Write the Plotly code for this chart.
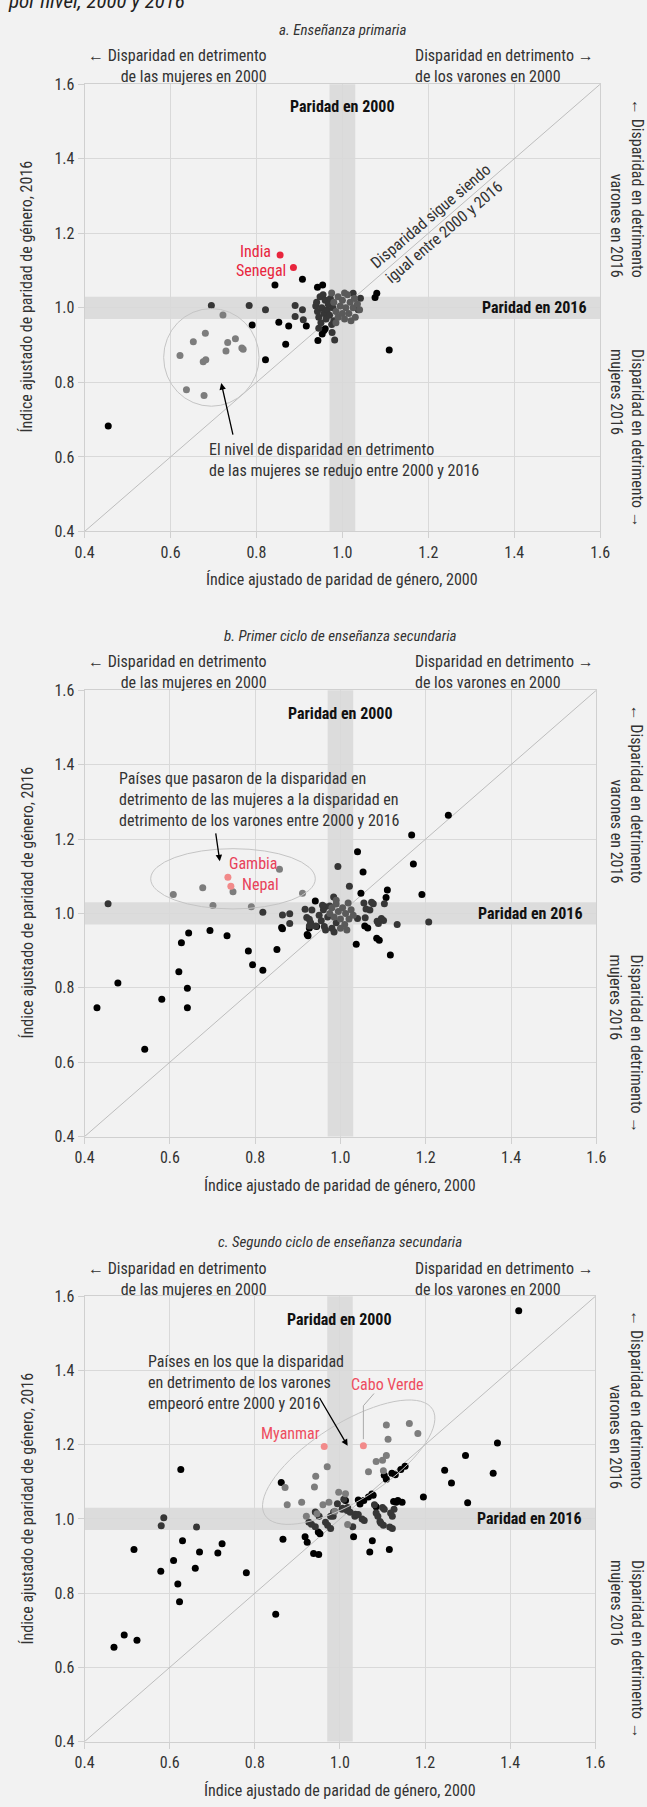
import math
import plotly.graph_objects as go

W, H = 647, 1807
FONT = "Roboto Condensed, Liberation Sans Narrow, sans-serif"
TXT = "#333333"

# ---------------- Panel a: Enseñanza primaria ----------------
a_black_x = [0.455, 0.907, 0.843, 0.942, 0.954, 1.080, 1.076, 1.109, 0.790, 0.821, 0.852, 0.875,
             0.868, 0.916, 0.943, 0.953, 0.957, 0.960]
a_black_y = [0.683, 1.077, 1.061, 1.055, 1.061, 1.039, 1.028, 0.887, 0.954, 0.861, 0.961, 0.951,
             0.902, 0.951, 0.912, 0.930, 0.939, 0.944]
a_dark_x = [0.695, 0.783, 0.821, 0.890, 0.907, 0.890, 0.909, 0.982, 0.976, 1.037, 1.025, 1.042,
            0.938, 0.940, 0.942, 0.945, 0.948, 0.950, 0.952, 0.955, 0.957, 0.960, 0.962, 0.965,
            0.967, 0.970, 0.972, 0.975, 0.978, 0.980, 0.945]
a_dark_y = [1.006, 1.006, 0.995, 1.006, 0.995, 0.977, 0.968, 0.914, 0.934, 0.995, 1.039, 1.026,
            1.005, 1.015, 0.990, 0.975, 1.030, 0.960, 1.000, 1.035, 0.985, 1.020, 0.970, 0.995,
            1.010, 0.980, 1.025, 0.955, 1.000, 0.965, 0.945]
a_mid_x = [0.975, 0.980, 0.985, 0.990, 0.990, 0.995, 1.000, 1.000, 1.005, 1.008, 1.012, 1.015,
           1.018, 1.020, 1.025, 1.028, 1.030, 1.035, 1.005, 0.985, 1.040]
a_mid_y = [1.040, 1.015, 0.990, 1.030, 0.975, 1.005, 1.020, 0.985, 0.970, 1.000, 1.035, 0.985,
           1.015, 0.965, 1.000, 1.025, 0.975, 1.010, 1.040, 0.960, 0.995]
a_gray_x = [0.622, 0.653, 0.681, 0.722, 0.733, 0.751, 0.766, 0.769, 0.729, 0.676, 0.682, 0.637, 0.678]
a_gray_y = [0.872, 0.909, 0.932, 0.981, 0.907, 0.917, 0.892, 0.889, 0.884, 0.855, 0.861, 0.780, 0.765]
a_hl_names = ["India", "Senegal"]
a_hl_x = [0.855, 0.886]
a_hl_y = [1.142, 1.108]

# ---------------- Panel b: Primer ciclo de secundaria ----------------
b_black_x = [0.429, 0.478, 0.541, 0.581, 0.621, 0.627, 0.641, 0.641, 0.644, 0.694, 0.734, 0.784,
             0.794, 0.818, 0.851, 0.864, 0.924, 0.941, 0.927, 0.944, 1.040, 1.053, 1.048, 1.037,
             1.064, 1.091, 1.110, 1.107, 1.117, 1.167, 1.171, 1.191, 1.253, 0.922, 0.862, 1.057,
             1.085]
b_black_y = [0.746, 0.813, 0.635, 0.769, 0.843, 0.921, 0.799, 0.746, 0.947, 0.954, 0.940, 0.899,
             0.862, 0.847, 0.903, 0.959, 0.940, 1.033, 0.961, 0.965, 1.166, 1.111, 1.054, 0.917,
             0.961, 0.928, 1.063, 1.043, 0.888, 1.211, 1.133, 1.051, 1.264, 0.943, 0.962, 0.966,
             0.933]
b_dark_x = [0.455, 0.818, 0.864, 0.881, 0.881, 0.917, 0.964, 0.994, 0.984, 1.021, 1.077, 1.103,
            1.101, 1.133, 1.207, 1.089, 0.933, 0.921, 0.927, 0.930, 0.927, 0.942, 1.055, 1.073,
            1.060, 1.069, 1.096, 1.086, 1.058, 1.040,
            0.950, 0.955, 0.960, 0.962, 0.965, 0.970, 0.975, 0.980, 0.985, 0.990, 0.958]
b_dark_y = [1.026, 1.003, 0.996, 0.973, 0.999, 1.011, 1.018, 1.126, 1.044, 1.073, 1.026, 1.026,
            0.981, 0.970, 0.977, 0.973, 1.009, 0.989, 0.984, 0.975, 0.966, 0.966, 1.028, 1.030,
            1.012, 1.009, 0.986, 0.979, 0.988, 0.986,
            0.995, 0.980, 1.010, 0.965, 0.955, 0.990, 1.020, 0.960, 0.950, 0.975, 1.022]
b_mid_x = [0.975, 0.980, 0.985, 0.990, 0.995, 1.000, 1.005, 1.010, 1.012, 1.018, 1.020, 1.025,
           1.030, 1.000, 1.015, 0.990]
b_mid_y = [1.000, 1.015, 0.990, 1.025, 1.005, 0.985, 1.015, 0.970, 1.000, 1.028, 0.985, 1.010,
           0.995, 0.960, 0.955, 1.035]
b_gray_x = [0.608, 0.677, 0.701, 0.748, 0.791, 0.857, 0.911]
b_gray_y = [1.051, 1.069, 1.021, 1.058, 1.018, 1.119, 1.054]
b_hl_names = ["Gambia", "Nepal"]
b_hl_x = [0.736, 0.743]
b_hl_y = [1.097, 1.073]

# ---------------- Panel c: Segundo ciclo de secundaria ----------------
c_black_x = [1.420, 0.469, 0.493, 0.523, 0.516, 0.579, 0.609, 0.619, 0.623, 0.626, 0.630, 0.660,
             0.670, 0.713, 0.723, 0.780, 0.849, 0.862, 0.866, 0.918, 0.923, 0.938, 0.950, 0.953,
             1.032, 1.070, 1.076, 1.116, 1.196, 1.246, 1.262, 1.295, 1.300, 1.360, 1.370,
             1.047, 1.056, 1.067, 1.078, 1.085, 1.109, 1.130, 1.143, 1.153, 1.132, 1.146, 1.013,
             1.104, 1.122, 1.043, 1.075, 1.126, 1.136, 0.949]
c_black_y = [1.561, 0.654, 0.687, 0.673, 0.918, 0.859, 0.888, 0.825, 0.777, 1.133, 0.941, 0.867,
             0.911, 0.908, 0.933, 0.855, 0.743, 1.098, 0.945, 0.952, 0.937, 0.907, 0.904, 0.960,
             0.952, 0.911, 0.941, 0.918, 1.059, 1.131, 1.097, 1.171, 1.044, 1.123, 1.205,
             1.040, 1.050, 1.059, 1.064, 1.033, 1.107, 1.119, 1.133, 1.142, 1.045, 1.045, 1.050,
             1.118, 1.123, 1.051, 1.067, 1.047, 1.050, 0.965]
c_dark_x = [0.586, 0.580, 0.663, 1.123, 1.089, 1.094, 1.102, 1.104, 1.127, 1.123, 1.057, 1.035,
            1.043, 1.018, 0.942, 0.933, 0.951, 0.971, 0.978, 0.984, 1.005, 1.030, 0.927, 0.942,
            0.966, 0.978, 0.985, 0.994, 1.006, 1.009, 1.017, 1.024, 1.036, 1.052, 1.081, 1.100,
            1.085, 1.096, 1.119, 1.117]
c_dark_y = [1.003, 0.982, 0.978, 0.974, 1.007, 0.993, 0.983, 1.026, 1.026, 1.007, 0.996, 1.007,
            1.012, 1.031, 0.979, 0.986, 1.007, 0.983, 0.974, 1.007, 1.026, 0.979, 0.991, 1.019,
            0.991, 1.007, 1.019, 1.041, 1.029, 1.053, 1.023, 1.018, 1.013, 1.000, 1.038, 1.031,
            1.016, 0.989, 1.016, 0.978]
c_gray_x = [1.109, 1.163, 1.183, 1.113, 1.109, 1.100, 1.085, 1.067, 1.102, 0.970, 0.943, 0.940,
            0.871, 0.876, 0.910, 0.960, 0.974, 0.997, 1.013, 0.921, 0.946, 0.988, 1.018]
c_gray_y = [1.253, 1.257, 1.230, 1.215, 1.171, 1.158, 1.155, 1.127, 1.130, 1.141, 1.115, 1.086,
            1.085, 1.038, 1.045, 1.038, 1.045, 1.072, 1.068, 1.007, 1.014, 1.021, 0.985]
c_hl_names = ["Myanmar", "Cabo Verde"]
c_hl_x = [0.963, 1.055]
c_hl_y = [1.195, 1.197]

# tick labels
tick_vals = [0.4, 0.6, 0.8, 1.0, 1.2, 1.4, 1.6]
tick_text = ["0.4", "0.6", "0.8", "1.0", "1.2", "1.4", "1.6"]

panel_titles = ["a. Enseñanza primaria",
                "b. Primer ciclo de enseñanza secundaria",
                "c. Segundo ciclo de enseñanza secundaria"]

# ---------------- layout geometry (pixels) ----------------
geo = [dict(l=77, r=609, t=76, b=528),
       dict(l=77, r=605, t=688.5, b=1139.5),
       dict(l=77, r=604, t=1301, b=1751)]


def px_x(p):
    return p / W


def px_y(p):
    return 1 - p / H


fig = go.Figure()

COL_BLACK = "#000000"
COL_DARK = "#363636"
COL_MID = "#5a5a5a"
COL_GRAY = "#7d7d7d"
COL_RED = "#e8253d"
COL_PINK = "#f28a8a"

panels = [
    dict(black=(a_black_x, a_black_y), dark=(a_dark_x, a_dark_y), mid=(a_mid_x, a_mid_y),
         gray=(a_gray_x, a_gray_y), hl=(a_hl_x, a_hl_y), hlcol=COL_RED),
    dict(black=(b_black_x, b_black_y), dark=(b_dark_x, b_dark_y), mid=(b_mid_x, b_mid_y),
         gray=(b_gray_x, b_gray_y), hl=(b_hl_x, b_hl_y), hlcol=COL_PINK),
    dict(black=(c_black_x, c_black_y), dark=(c_dark_x, c_dark_y), mid=([], []),
         gray=(c_gray_x, c_gray_y), hl=(c_hl_x, c_hl_y), hlcol=COL_PINK),
]

FS = 16
shapes = []
annotations = []
layout_axes = {}

for i, (p, g) in enumerate(zip(panels, geo)):
    s = "" if i == 0 else str(i + 1)
    xa, ya = "x" + s, "y" + s
    for key, col in [("black", COL_BLACK), ("dark", COL_DARK), ("mid", COL_MID),
                     ("gray", COL_GRAY), ("hl", p["hlcol"])]:
        xs, ys = p[key]
        if not xs:
            continue
        fig.add_trace(go.Scatter(x=xs, y=ys, mode="markers", xaxis=xa, yaxis=ya,
                                 marker=dict(size=7, color=col, line=dict(width=0)),
                                 showlegend=False, hoverinfo="skip"))

    axis_common = dict(range=[0.4, 1.6], tickvals=tick_vals, ticktext=tick_text,
                       showgrid=True, gridcolor="#d9d9d9", gridwidth=1, zeroline=False,
                       showline=True, linecolor="#d0d0d0", linewidth=1, mirror=True,
                       ticks="outside", ticklen=6, tickcolor="#d0d0d0",
                       tickfont=dict(family=FONT, size=FS, color=TXT), fixedrange=True)
    layout_axes["xaxis" + s] = dict(axis_common, domain=[px_x(g["l"]), px_x(g["r"])], anchor=ya)
    layout_axes["yaxis" + s] = dict(axis_common, domain=[px_y(g["b"]), px_y(g["t"])], anchor=xa)

    # parity bands
    shapes.append(dict(type="rect", xref=xa, yref=ya + " domain", x0=0.97, x1=1.03, y0=0, y1=1,
                       fillcolor="#dcdcdc", line=dict(width=0), layer="below"))
    shapes.append(dict(type="rect", xref=xa + " domain", yref=ya, x0=0, x1=1, y0=0.97, y1=1.03,
                       fillcolor="#dcdcdc", line=dict(width=0), layer="below"))
    # diagonal of equality
    shapes.append(dict(type="line", xref=xa, yref=ya, x0=0.4, y0=0.4, x1=1.6, y1=1.6,
                       line=dict(color="#bdbdbd", width=1), layer="between"))

    cx = (g["l"] + g["r"]) / 2
    # panel title
    annotations.append(dict(text="<i>" + panel_titles[i] + "</i>", xref="paper", yref="paper",
                            x=px_x(cx), y=px_y(g["t"] - 55), xanchor="center", yanchor="middle",
                            showarrow=False, font=dict(family=FONT, size=15, color=TXT)))
    annotations.append(dict(text="← Disparidad en detrimento<br>de las mujeres en 2000",
                            xref="paper", yref="paper", x=px_x(267), y=px_y(g["t"] - 18),
                            xanchor="right", yanchor="middle", align="right", showarrow=False,
                            font=dict(family=FONT, size=FS, color=TXT)))
    annotations.append(dict(text="Disparidad en detrimento →<br>de los varones en 2000",
                            xref="paper", yref="paper", x=px_x(416), y=px_y(g["t"] - 18),
                            xanchor="left", yanchor="middle", align="left", showarrow=False,
                            font=dict(family=FONT, size=FS, color=TXT)))
    annotations.append(dict(text="<b>Paridad en 2000</b>", xref=xa, yref="paper", x=1.0,
                            y=px_y(g["t"] + 23), xanchor="center", yanchor="middle",
                            showarrow=False, font=dict(family=FONT, size=FS, color="#111")))
    annotations.append(dict(text="<b>Paridad en 2016</b>", xref="paper", yref=ya,
                            x=px_x(g["r"] - 12), y=1.0, xanchor="right", yanchor="middle",
                            showarrow=False, font=dict(family=FONT, size=FS, color="#111")))
    # axis titles
    annotations.append(dict(text="Índice ajustado de paridad de género, 2000", xref="paper",
                            yref="paper", x=px_x(cx), y=px_y(g["b"] + 49), xanchor="center",
                            yanchor="middle", showarrow=False,
                            font=dict(family=FONT, size=FS, color=TXT)))
    annotations.append(dict(text="Índice ajustado de paridad de género, 2016", xref="paper",
                            yref="paper", x=px_x(18), y=px_y(g["t"] + 214), xanchor="center",
                            yanchor="middle", textangle=-90, showarrow=False,
                            font=dict(family=FONT, size=FS, color=TXT)))
    # right side rotated notes
    annotations.append(dict(text="← Disparidad en detrimento<br>varones en 2016", xref="paper",
                            yref=ya, x=px_x(636), y=1.075, xanchor="center", yanchor="bottom",
                            align="right", textangle=90, showarrow=False,
                            font=dict(family=FONT, size=FS, color=TXT)))
    annotations.append(dict(text="Disparidad en detrimento →<br>mujeres 2016", xref="paper",
                            yref=ya, x=px_x(636), y=0.895, xanchor="center", yanchor="top",
                            align="left", textangle=90, showarrow=False,
                            font=dict(family=FONT, size=FS, color=TXT)))
    # diagonal label angle in pixels
    ang = math.degrees(math.atan((g["b"] - g["t"]) / (g["r"] - g["l"])))
    if i == 0:
        annotations.append(dict(text="Disparidad sigue siendo<br>igual entre 2000 y 2016",
                                xref=xa, yref=ya, x=1.222, y=1.224, textangle=-ang,
                                showarrow=False, font=dict(family=FONT, size=FS, color=TXT)))

# ---- panel a specific ----
shapes.append(dict(type="circle", xref="x", yref="y", x0=0.584, x1=0.806, y0=0.736, y1=0.998,
                   line=dict(color="#c4c4c4", width=1)))
annotations += [
    dict(text=a_hl_names[0], xref="x", yref="y", x=0.838, y=1.151, xanchor="right",
         yanchor="middle", showarrow=False, font=dict(family=FONT, size=FS, color=COL_RED)),
    dict(text=a_hl_names[1], xref="x", yref="y", x=0.874, y=1.101, xanchor="right",
         yanchor="middle", showarrow=False, font=dict(family=FONT, size=FS, color=COL_RED)),
    dict(text="El nivel de disparidad en detrimento<br>de las mujeres se redujo entre 2000 y 2016",
         xref="x", yref="y", x=0.686, y=0.592, xanchor="left", yanchor="middle", align="left",
         showarrow=False, font=dict(family=FONT, size=FS, color=TXT)),
    dict(text="", xref="x", yref="y", axref="x", ayref="y", x=0.718, y=0.798, ax=0.746, ay=0.656,
         showarrow=True, arrowhead=2, arrowsize=1, arrowwidth=1.3, arrowcolor="#000"),
]

# ---- panel b specific ----
shapes.append(dict(type="circle", xref="x2", yref="y2", x0=0.555, x1=0.941, y0=1.012, y1=1.174,
                   line=dict(color="#c4c4c4", width=1)))
annotations += [
    dict(text="Países que pasaron de la disparidad en<br>detrimento de las mujeres a la disparidad en"
              "<br>detrimento de los varones entre 2000 y 2016",
         xref="x2", yref="y2", x=0.477, y=1.305, xanchor="left", yanchor="middle", align="left",
         showarrow=False, font=dict(family=FONT, size=FS, color=TXT)),
    dict(text="", xref="x2", yref="y2", axref="x2", ayref="y2", x=0.717, y=1.140, ax=0.707,
         ay=1.219, showarrow=True, arrowhead=2, arrowsize=1, arrowwidth=1.3, arrowcolor="#000"),
    dict(text=b_hl_names[0], xref="x2", yref="y2", x=0.734, y=1.134, xanchor="left",
         yanchor="middle", showarrow=False, font=dict(family=FONT, size=FS, color="#e8415a")),
    dict(text=b_hl_names[1], xref="x2", yref="y2", x=0.765, y=1.078, xanchor="left",
         yanchor="middle", showarrow=False, font=dict(family=FONT, size=FS, color="#e8415a")),
]

# ---- panel c specific ----
g = geo[2]
pxu_x = (g["r"] - g["l"]) / 1.2
pxu_y = (g["b"] - g["t"]) / 1.2
ecx, ecy = 1.0205, 1.153
a_len, b_len = 101.7, 39.0
ux, uy = 0.851, 0.525   # major axis direction in pixel space (y up)
vx, vy = 0.525, -0.851  # minor axis direction
path = []
for k in range(73):
    t = 2 * math.pi * k / 72
    dx = a_len * math.cos(t) * ux + b_len * math.sin(t) * vx
    dy = a_len * math.cos(t) * uy + b_len * math.sin(t) * vy
    path.append((ecx + dx / pxu_x, ecy + dy / pxu_y))
shapes.append(dict(type="path", xref="x3", yref="y3",
                   path="M " + " L ".join(f"{px:.4f},{py:.4f}" for px, py in path) + " Z",
                   line=dict(color="#c4c4c4", width=1)))
shapes.append(dict(type="path", xref="x3", yref="y3",
                   path="M 1.055,1.215 L 1.055,1.305 L 1.080,1.338",
                   line=dict(color="#aaaaaa", width=1)))
annotations += [
    dict(text="Países en los que la disparidad<br>en detrimento de los varones<br>empeoró entre 2000 y 2016",
         xref="x3", yref="y3", x=0.545, y=1.369, xanchor="left", yanchor="middle", align="left",
         showarrow=False, font=dict(family=FONT, size=FS, color=TXT)),
    dict(text="", xref="x3", yref="y3", axref="x3", ayref="y3", x=1.018, y=1.197, ax=0.950,
         ay=1.330, showarrow=True, arrowhead=2, arrowsize=1, arrowwidth=1.3, arrowcolor="#000"),
    dict(text=c_hl_names[0], xref="x3", yref="y3", x=0.957, y=1.230, xanchor="right",
         yanchor="middle", showarrow=False, font=dict(family=FONT, size=FS, color="#ee4d5f")),
    dict(text=c_hl_names[1], xref="x3", yref="y3", x=1.022, y=1.363, xanchor="left",
         yanchor="middle", showarrow=False, font=dict(family=FONT, size=FS, color="#ee4d5f")),
]

# cut-off figure title at the very top
annotations.append(dict(text="<i>por nivel, 2000 y 2016</i>", xref="paper", yref="paper",
                        x=px_x(-4), y=px_y(-22), xanchor="left", yanchor="top",
                        showarrow=False, font=dict(family=FONT, size=21, color="#222")))

fig.update_layout(width=W, height=H, margin=dict(l=0, r=0, t=0, b=0),
                  paper_bgcolor="#f2f2f2", plot_bgcolor="#f2f2f2",
                  shapes=shapes, annotations=annotations, showlegend=False,
                  font=dict(family=FONT, color=TXT), **layout_axes)

fig.write_html("out.html", config={"displayModeBar": False},
               post_script="document.body.style.margin='0';")
